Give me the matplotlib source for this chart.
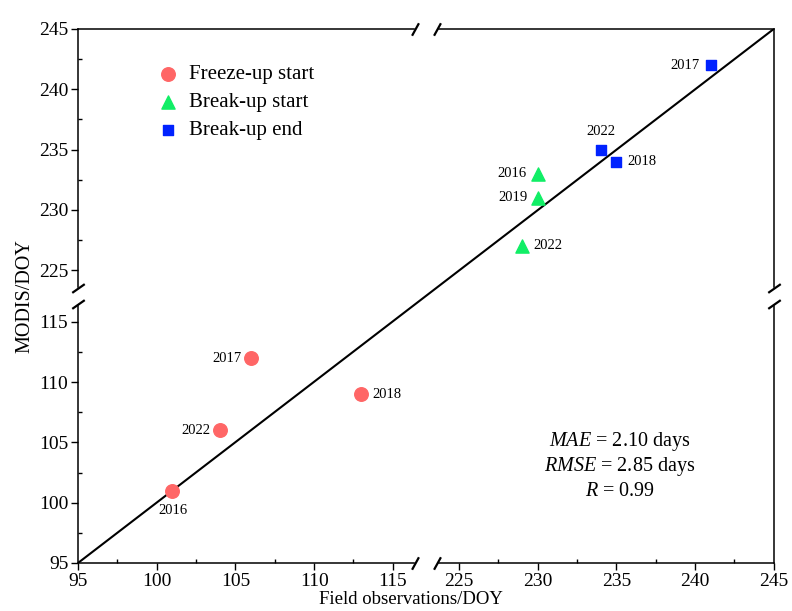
import matplotlib
matplotlib.use("Agg")
import matplotlib.pyplot as plt
import numpy as np
from matplotlib.patches import Rectangle

plt.rcParams['font.family'] = 'Liberation Serif'
plt.rcParams['mathtext.fontset'] = 'custom'
plt.rcParams['mathtext.rm'] = 'Liberation Serif'
plt.rcParams['mathtext.it'] = 'Liberation Serif:italic'

# data (field obs, MODIS, year)
freeze_obs = [101, 104, 106, 113]
freeze_modis = [101, 106, 112, 109]
freeze_years = ['2016', '2022', '2017', '2018']

bstart_obs = [230, 230, 229]
bstart_modis = [233, 231, 227]
bstart_years = ['2016', '2019', '2022']

bend_obs = [241, 234, 235]
bend_modis = [242, 235, 234]
bend_years = ['2017', '2022', '2018']

major_ticks = [95, 100, 105, 110, 115, 225, 230, 235, 240, 245]
major_labels = ['95', '100', '105', '110', '115', '225', '230', '235', '240', '245']
minor_ticks = [97.5, 102.5, 107.5, 112.5, 227.5, 232.5, 237.5, 242.5]

stats = ['$\\mathit{MAE}$ = 2.10 days', '$\\mathit{RMSE}$ = 2.85 days', '$\\mathit{R}$ = 0.99']


def broken(lo_end, hi_start, gap):
    # piecewise map that squeezes (lo_end, hi_start) into a short gap
    span = hi_start - lo_end

    def fwd(v):
        v = np.asarray(v, dtype=float)
        return np.where(v <= lo_end, v,
                        np.where(v >= hi_start, v - span + gap,
                                 lo_end + (v - lo_end) * gap / span))

    def inv(u):
        u = np.asarray(u, dtype=float)
        return np.where(u <= lo_end, u,
                        np.where(u >= lo_end + gap, u + span - gap,
                                 lo_end + (u - lo_end) * span / gap))
    return fwd, inv


XLO, XHI = 116.4, 223.6
YLO, YHI = 116.5, 223.5

fig = plt.figure(figsize=(7.92, 6.11), dpi=100)
ax = fig.add_axes([0.0985, 0.0786, 0.8785, 0.874])
ax.set_xscale('function', functions=broken(XLO, XHI, 1.4))
ax.set_yscale('function', functions=broken(YLO, YHI, 1.3))
ax.set_xlim(95, 245)
ax.set_ylim(95, 245)

ax.plot([95, 245], [95, 245], color='black', lw=1.5, zorder=2)

ax.scatter(freeze_obs, freeze_modis, s=95, marker='o', color='#ff6666', label='Freeze-up start', zorder=5)
ax.scatter(bstart_obs, bstart_modis, s=90, marker='^', color='#11ee66', label='Break-up start', zorder=5)
ax.scatter(bend_obs, bend_modis, s=58, marker='s', color='#0022ff', label='Break-up end', zorder=5)

# year labels: (dx, dy, ha) in points
freeze_off = [(0, -14, 'center'), (-7, 0, 'right'), (-7, 0, 'right'), (8, 0, 'left')]
bstart_off = [(-8, 0, 'right'), (-7, 0, 'right'), (8, 0, 'left')]
bend_off = [(-8, 0, 'right'), (0, 13, 'center'), (8, 0, 'left')]
for xs, ys, yrs, offs in [(freeze_obs, freeze_modis, freeze_years, freeze_off),
                          (bstart_obs, bstart_modis, bstart_years, bstart_off),
                          (bend_obs, bend_modis, bend_years, bend_off)]:
    for x, y, t, (dx, dy, ha) in zip(xs, ys, yrs, offs):
        ax.annotate(t, (x, y), xytext=(dx, dy), textcoords='offset points',
                    ha=ha, va='center', fontsize=10.5)

ax.set_xticks(major_ticks)
ax.set_xticklabels(major_labels)
ax.set_yticks(major_ticks)
ax.set_yticklabels(major_labels)
ax.set_xticks(minor_ticks, minor=True)
ax.set_yticks(minor_ticks, minor=True)
ax.tick_params(which='major', direction='out', length=5, width=1, labelsize=14, pad=2)
ax.tick_params(which='minor', direction='in', length=3, width=1)

for sp in ax.spines.values():
    sp.set_linewidth(1.1)

# cut the spines in the gaps and add the break marks
ax.add_patch(Rectangle((XLO, -0.01), XHI - XLO, 0.02, transform=ax.get_xaxis_transform(),
                       color='white', clip_on=False, zorder=3))
ax.add_patch(Rectangle((XLO, 0.99), XHI - XLO, 0.02, transform=ax.get_xaxis_transform(),
                       color='white', clip_on=False, zorder=3))
ax.add_patch(Rectangle((-0.01, YLO), 0.02, YHI - YLO, transform=ax.get_yaxis_transform(),
                       color='white', clip_on=False, zorder=3))
ax.add_patch(Rectangle((0.99, YLO), 0.02, YHI - YLO, transform=ax.get_yaxis_transform(),
                       color='white', clip_on=False, zorder=3))
for yy in [0, 1]:
    ax.plot([XLO, XHI], [yy, yy], transform=ax.get_xaxis_transform(), ls='none',
            marker=[(-0.55, -1), (0.55, 1)], ms=9, mew=1.6, color='black', clip_on=False, zorder=4)
for xx in [0, 1]:
    ax.plot([xx, xx], [YLO, YHI], transform=ax.get_yaxis_transform(), ls='none',
            marker=[(-1, -0.7), (1, 0.7)], ms=9, mew=1.6, color='black', clip_on=False, zorder=4)

for i, t in enumerate(stats):
    ax.text(0.779, 0.227 - i * 0.047, t, transform=ax.transAxes, ha='center', va='center', fontsize=14.5)

ax.set_xlabel('Field observations/DOY', fontsize=13.5, labelpad=1)
ax.xaxis.set_label_coords(0.478, -0.052)
ax.set_ylabel('MODIS/DOY', fontsize=14.5, labelpad=3)

ax.legend(loc='upper left', bbox_to_anchor=(0.115, 0.933), frameon=False, fontsize=15,
          handlelength=0.95, handletextpad=0.55, labelspacing=0.4, borderpad=0, borderaxespad=0,
          scatterpoints=1)

fig.savefig('out.png', dpi=100)
